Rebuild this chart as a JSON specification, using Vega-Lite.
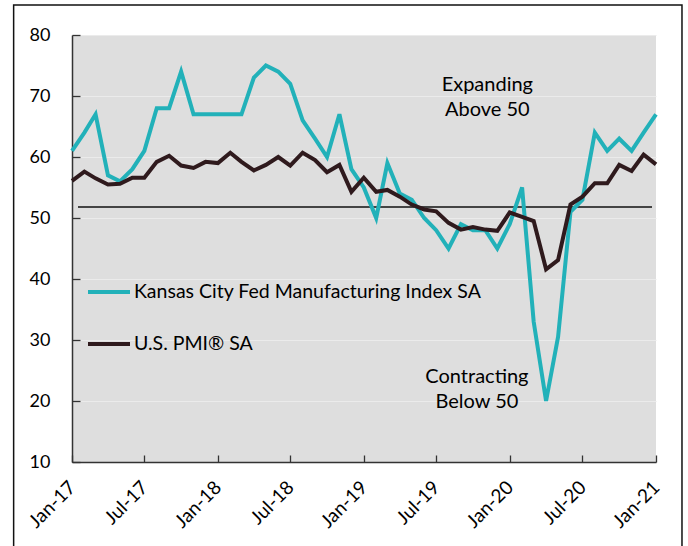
{
  "$schema": "https://vega.github.io/schema/vega-lite/v6.json",
  "width": 584,
  "height": 427,
  "autosize": {"type": "none"},
  "padding": {"left": 72, "top": 35, "right": 32, "bottom": 84},
  "background": "white",
  "config": {"view": {"fill": "#dedede", "stroke": null}, "font": "Lato"},
  "layer": [
    {
      "data": {"values": [{"k": "frame"}]},
      "mark": {"type": "rect", "fill": null, "stroke": "#111111", "strokeWidth": 1.5},
      "encoding": {
        "x": {"datum": {"year": 2016, "month": 8, "date": 8, "utc": true}, "type": "temporal", "scale": {"type": "utc", "domain": [{"year": 2017, "month": 1, "date": 1, "utc": true}, {"year": 2021, "month": 1, "date": 1, "utc": true}]}},
        "x2": {"datum": {"year": 2021, "month": 3, "date": 7, "utc": true}},
        "y": {"datum": 84.9, "type": "quantitative", "scale": {"domain": [10, 80]}},
        "y2": {"datum": -8}
      }
    },
    {
      "data": {"values": [{"k": "ref"}]},
      "mark": {"type": "rule", "color": "#111111", "strokeWidth": 1.3},
      "encoding": {
        "x": {"datum": {"year": 2017, "month": 1, "date": 16, "utc": true}, "type": "temporal", "scale": {"type": "utc", "domain": [{"year": 2017, "month": 1, "date": 1, "utc": true}, {"year": 2021, "month": 1, "date": 1, "utc": true}]}},
        "x2": {"datum": {"year": 2020, "month": 12, "date": 22, "utc": true}},
        "y": {"datum": 51.8, "type": "quantitative", "scale": {"domain": [10, 80]}}
      }
    },
    {
      "data": {
        "values": [
          {"date": "2017-01-01", "series": "Kansas City Fed Manufacturing Index SA", "value": 61},
          {"date": "2017-02-01", "series": "Kansas City Fed Manufacturing Index SA", "value": 64},
          {"date": "2017-03-01", "series": "Kansas City Fed Manufacturing Index SA", "value": 67},
          {"date": "2017-04-01", "series": "Kansas City Fed Manufacturing Index SA", "value": 57},
          {"date": "2017-05-01", "series": "Kansas City Fed Manufacturing Index SA", "value": 56},
          {"date": "2017-06-01", "series": "Kansas City Fed Manufacturing Index SA", "value": 58},
          {"date": "2017-07-01", "series": "Kansas City Fed Manufacturing Index SA", "value": 61},
          {"date": "2017-08-01", "series": "Kansas City Fed Manufacturing Index SA", "value": 68},
          {"date": "2017-09-01", "series": "Kansas City Fed Manufacturing Index SA", "value": 68},
          {"date": "2017-10-01", "series": "Kansas City Fed Manufacturing Index SA", "value": 74},
          {"date": "2017-11-01", "series": "Kansas City Fed Manufacturing Index SA", "value": 67},
          {"date": "2017-12-01", "series": "Kansas City Fed Manufacturing Index SA", "value": 67},
          {"date": "2018-01-01", "series": "Kansas City Fed Manufacturing Index SA", "value": 67},
          {"date": "2018-02-01", "series": "Kansas City Fed Manufacturing Index SA", "value": 67},
          {"date": "2018-03-01", "series": "Kansas City Fed Manufacturing Index SA", "value": 67},
          {"date": "2018-04-01", "series": "Kansas City Fed Manufacturing Index SA", "value": 73},
          {"date": "2018-05-01", "series": "Kansas City Fed Manufacturing Index SA", "value": 75},
          {"date": "2018-06-01", "series": "Kansas City Fed Manufacturing Index SA", "value": 74},
          {"date": "2018-07-01", "series": "Kansas City Fed Manufacturing Index SA", "value": 72},
          {"date": "2018-08-01", "series": "Kansas City Fed Manufacturing Index SA", "value": 66},
          {"date": "2018-09-01", "series": "Kansas City Fed Manufacturing Index SA", "value": 63},
          {"date": "2018-10-01", "series": "Kansas City Fed Manufacturing Index SA", "value": 60},
          {"date": "2018-11-01", "series": "Kansas City Fed Manufacturing Index SA", "value": 67},
          {"date": "2018-12-01", "series": "Kansas City Fed Manufacturing Index SA", "value": 58},
          {"date": "2019-01-01", "series": "Kansas City Fed Manufacturing Index SA", "value": 55},
          {"date": "2019-02-01", "series": "Kansas City Fed Manufacturing Index SA", "value": 50},
          {"date": "2019-03-01", "series": "Kansas City Fed Manufacturing Index SA", "value": 59},
          {"date": "2019-04-01", "series": "Kansas City Fed Manufacturing Index SA", "value": 54},
          {"date": "2019-05-01", "series": "Kansas City Fed Manufacturing Index SA", "value": 53},
          {"date": "2019-06-01", "series": "Kansas City Fed Manufacturing Index SA", "value": 50},
          {"date": "2019-07-01", "series": "Kansas City Fed Manufacturing Index SA", "value": 48},
          {"date": "2019-08-01", "series": "Kansas City Fed Manufacturing Index SA", "value": 45},
          {"date": "2019-09-01", "series": "Kansas City Fed Manufacturing Index SA", "value": 49},
          {"date": "2019-10-01", "series": "Kansas City Fed Manufacturing Index SA", "value": 48},
          {"date": "2019-11-01", "series": "Kansas City Fed Manufacturing Index SA", "value": 48},
          {"date": "2019-12-01", "series": "Kansas City Fed Manufacturing Index SA", "value": 45},
          {"date": "2020-01-01", "series": "Kansas City Fed Manufacturing Index SA", "value": 49},
          {"date": "2020-02-01", "series": "Kansas City Fed Manufacturing Index SA", "value": 55},
          {"date": "2020-03-01", "series": "Kansas City Fed Manufacturing Index SA", "value": 33},
          {"date": "2020-04-01", "series": "Kansas City Fed Manufacturing Index SA", "value": 20},
          {"date": "2020-05-01", "series": "Kansas City Fed Manufacturing Index SA", "value": 30.5},
          {"date": "2020-06-01", "series": "Kansas City Fed Manufacturing Index SA", "value": 51},
          {"date": "2020-07-01", "series": "Kansas City Fed Manufacturing Index SA", "value": 53},
          {"date": "2020-08-01", "series": "Kansas City Fed Manufacturing Index SA", "value": 64},
          {"date": "2020-09-01", "series": "Kansas City Fed Manufacturing Index SA", "value": 61},
          {"date": "2020-10-01", "series": "Kansas City Fed Manufacturing Index SA", "value": 63},
          {"date": "2020-11-01", "series": "Kansas City Fed Manufacturing Index SA", "value": 61},
          {"date": "2020-12-01", "series": "Kansas City Fed Manufacturing Index SA", "value": 64},
          {"date": "2021-01-01", "series": "Kansas City Fed Manufacturing Index SA", "value": 67},
          {"date": "2017-01-01", "series": "U.S. PMI® SA", "value": 56.1},
          {"date": "2017-02-01", "series": "U.S. PMI® SA", "value": 57.6},
          {"date": "2017-03-01", "series": "U.S. PMI® SA", "value": 56.5},
          {"date": "2017-04-01", "series": "U.S. PMI® SA", "value": 55.5},
          {"date": "2017-05-01", "series": "U.S. PMI® SA", "value": 55.6},
          {"date": "2017-06-01", "series": "U.S. PMI® SA", "value": 56.6},
          {"date": "2017-07-01", "series": "U.S. PMI® SA", "value": 56.6},
          {"date": "2017-08-01", "series": "U.S. PMI® SA", "value": 59.2},
          {"date": "2017-09-01", "series": "U.S. PMI® SA", "value": 60.2},
          {"date": "2017-10-01", "series": "U.S. PMI® SA", "value": 58.6},
          {"date": "2017-11-01", "series": "U.S. PMI® SA", "value": 58.2},
          {"date": "2017-12-01", "series": "U.S. PMI® SA", "value": 59.2},
          {"date": "2018-01-01", "series": "U.S. PMI® SA", "value": 59.0},
          {"date": "2018-02-01", "series": "U.S. PMI® SA", "value": 60.7},
          {"date": "2018-03-01", "series": "U.S. PMI® SA", "value": 59.2},
          {"date": "2018-04-01", "series": "U.S. PMI® SA", "value": 57.8},
          {"date": "2018-05-01", "series": "U.S. PMI® SA", "value": 58.7},
          {"date": "2018-06-01", "series": "U.S. PMI® SA", "value": 60.0},
          {"date": "2018-07-01", "series": "U.S. PMI® SA", "value": 58.6},
          {"date": "2018-08-01", "series": "U.S. PMI® SA", "value": 60.7},
          {"date": "2018-09-01", "series": "U.S. PMI® SA", "value": 59.5},
          {"date": "2018-10-01", "series": "U.S. PMI® SA", "value": 57.5},
          {"date": "2018-11-01", "series": "U.S. PMI® SA", "value": 58.7},
          {"date": "2018-12-01", "series": "U.S. PMI® SA", "value": 54.3},
          {"date": "2019-01-01", "series": "U.S. PMI® SA", "value": 56.6},
          {"date": "2019-02-01", "series": "U.S. PMI® SA", "value": 54.3},
          {"date": "2019-03-01", "series": "U.S. PMI® SA", "value": 54.6},
          {"date": "2019-04-01", "series": "U.S. PMI® SA", "value": 53.5},
          {"date": "2019-05-01", "series": "U.S. PMI® SA", "value": 52.2},
          {"date": "2019-06-01", "series": "U.S. PMI® SA", "value": 51.4},
          {"date": "2019-07-01", "series": "U.S. PMI® SA", "value": 51.1},
          {"date": "2019-08-01", "series": "U.S. PMI® SA", "value": 49.2},
          {"date": "2019-09-01", "series": "U.S. PMI® SA", "value": 48.1},
          {"date": "2019-10-01", "series": "U.S. PMI® SA", "value": 48.5},
          {"date": "2019-11-01", "series": "U.S. PMI® SA", "value": 48.1},
          {"date": "2019-12-01", "series": "U.S. PMI® SA", "value": 47.9},
          {"date": "2020-01-01", "series": "U.S. PMI® SA", "value": 50.9},
          {"date": "2020-02-01", "series": "U.S. PMI® SA", "value": 50.2},
          {"date": "2020-03-01", "series": "U.S. PMI® SA", "value": 49.5},
          {"date": "2020-04-01", "series": "U.S. PMI® SA", "value": 41.6},
          {"date": "2020-05-01", "series": "U.S. PMI® SA", "value": 43.1},
          {"date": "2020-06-01", "series": "U.S. PMI® SA", "value": 52.2},
          {"date": "2020-07-01", "series": "U.S. PMI® SA", "value": 53.5},
          {"date": "2020-08-01", "series": "U.S. PMI® SA", "value": 55.7},
          {"date": "2020-09-01", "series": "U.S. PMI® SA", "value": 55.7},
          {"date": "2020-10-01", "series": "U.S. PMI® SA", "value": 58.7},
          {"date": "2020-11-01", "series": "U.S. PMI® SA", "value": 57.7},
          {"date": "2020-12-01", "series": "U.S. PMI® SA", "value": 60.4},
          {"date": "2021-01-01", "series": "U.S. PMI® SA", "value": 58.8}
        ]
      },
      "mark": {"type": "line", "strokeWidth": 4, "strokeJoin": "miter", "clip": false},
      "encoding": {
        "x": {
          "field": "date",
          "type": "temporal",
          "scale": {"type": "utc", "domain": [{"year": 2017, "month": 1, "date": 1, "utc": true}, {"year": 2021, "month": 1, "date": 1, "utc": true}]},
          "axis": {
            "title": null,
            "format": "%b-%y",
            "values": [
              {"year": 2017, "month": 1, "date": 1, "utc": true},
              {"year": 2017, "month": 7, "date": 1, "utc": true},
              {"year": 2018, "month": 1, "date": 1, "utc": true},
              {"year": 2018, "month": 7, "date": 1, "utc": true},
              {"year": 2019, "month": 1, "date": 1, "utc": true},
              {"year": 2019, "month": 7, "date": 1, "utc": true},
              {"year": 2020, "month": 1, "date": 1, "utc": true},
              {"year": 2020, "month": 7, "date": 1, "utc": true},
              {"year": 2021, "month": 1, "date": 1, "utc": true}
            ],
            "labelAngle": -45,
            "labelAlign": "right",
            "labelBaseline": "middle",
            "labelFontSize": 19,
            "labelColor": "#000000",
            "labelPadding": 29,
            "labelFlush": false,
            "labelOverlap": false,
            "tickSize": -7,
            "tickColor": "#333333",
            "tickWidth": 1.3,
            "domainColor": "#333333",
            "domainWidth": 1.5,
            "grid": false
          }
        },
        "y": {
          "field": "value",
          "type": "quantitative",
          "scale": {"domain": [10, 80]},
          "axis": {
            "title": null,
            "values": [10, 20, 30, 40, 50, 60, 70, 80],
            "labelFontSize": 18,
            "labelColor": "#000000",
            "labelPadding": 30,
            "tickSize": -8,
            "tickColor": "#333333",
            "tickWidth": 1.3,
            "domainColor": "#333333",
            "domainWidth": 1.5,
            "grid": true,
            "gridColor": "#ebebeb",
            "gridWidth": 1.2
          }
        },
        "color": {
          "field": "series",
          "type": "nominal",
          "scale": {
            "domain": ["Kansas City Fed Manufacturing Index SA", "U.S. PMI® SA"],
            "range": ["#22b1b9", "#2f1a1d"]
          },
          "legend": {
            "orient": "none",
            "legendX": 14,
            "legendY": 234,
            "title": null,
            "symbolType": "stroke",
            "symbolSize": 1764,
            "symbolStrokeWidth": 4,
            "labelFontSize": 19.5,
            "labelColor": "#000000",
            "labelOffset": 2,
            "labelLimit": 600,
            "rowPadding": 19
          }
        }
      }
    },
    {
      "data": {
        "values": [
          {"date": "2019-11-06", "value": 71.8, "label": "Expanding\nAbove 50"},
          {"date": "2019-10-11", "value": 23.93, "label": "Contracting\nBelow 50"}
        ]
      },
      "mark": {"type": "text", "fontSize": 20, "lineBreak": "\n", "lineHeight": 25, "align": "center", "baseline": "middle", "color": "#000000"},
      "encoding": {
        "x": {"field": "date", "type": "temporal", "scale": {"type": "utc", "domain": [{"year": 2017, "month": 1, "date": 1, "utc": true}, {"year": 2021, "month": 1, "date": 1, "utc": true}]}},
        "y": {"field": "value", "type": "quantitative", "scale": {"domain": [10, 80]}},
        "text": {"field": "label"}
      }
    }
  ]
}
